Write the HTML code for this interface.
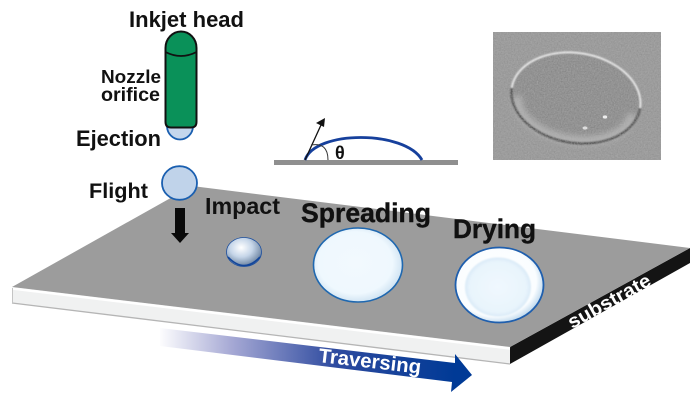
<!DOCTYPE html>
<html><head><meta charset="utf-8"><style>
html,body{margin:0;padding:0;background:#fff;width:700px;height:403px;overflow:hidden}
svg{display:block}
text{font-family:"Liberation Sans",sans-serif;font-weight:bold;fill:#111}
</style></head><body>
<svg width="700" height="403" viewBox="0 0 700 403" xmlns="http://www.w3.org/2000/svg">
<defs>
<linearGradient id="trav" x1="158" y1="0" x2="455" y2="0" gradientUnits="userSpaceOnUse"><stop offset="0" stop-color="#fff"/><stop offset=".25" stop-color="#a5a8d4"/><stop offset=".6" stop-color="#2d4a9f"/><stop offset="1" stop-color="#003a96"/></linearGradient>
<radialGradient id="imp" cx=".42" cy=".35" r=".72"><stop offset="0" stop-color="#fff"/><stop offset=".45" stop-color="#c5d5e8"/><stop offset=".8" stop-color="#7d93ae"/><stop offset="1" stop-color="#143f8f"/></radialGradient>
<radialGradient id="spr" cx=".47" cy=".47" r=".58"><stop offset="0" stop-color="#f2f9fe"/><stop offset=".72" stop-color="#eff8fe"/><stop offset="1" stop-color="#c5dcee"/></radialGradient>
<radialGradient id="dryo" cx=".45" cy=".45" r=".6"><stop offset="0" stop-color="#fff"/><stop offset=".78" stop-color="#fafdff"/><stop offset="1" stop-color="#a9cbe6"/></radialGradient>
<radialGradient id="dry" cx=".5" cy=".5" r=".55"><stop offset="0" stop-color="#f0f8fe"/><stop offset=".78" stop-color="#e8f4fc"/><stop offset="1" stop-color="#cfe3f3"/></radialGradient>
<filter id="noise" x="0" y="0" width="100%" height="100%"><feTurbulence type="fractalNoise" baseFrequency=".7" numOctaves="2" seed="4"/><feColorMatrix values="0 0 0 0 .5  0 0 0 0 .5  0 0 0 0 .5  .5 .5 0 0 -.25"/></filter>
<filter id="b1" x="-20%" y="-20%" width="140%" height="140%"><feGaussianBlur stdDeviation=".7"/></filter>
<filter id="b4" x="-20%" y="-30%" width="140%" height="160%"><feGaussianBlur stdDeviation="3"/></filter>
<clipPath id="semclip"><rect x="493" y="32" width="168" height="128"/></clipPath>
</defs>

<!-- SEM inset -->
<g clip-path="url(#semclip)">
<rect x="493" y="32" width="168" height="128" fill="#929292"/>
<g transform="rotate(9 576 97.500)">
<ellipse cx="576" cy="97.500" rx="64" ry="44" fill="#858585" filter="url(#b1)"/>
<path d="M518 105 A58 35 0 0 0 634 105" fill="none" stroke="#aeaeae" stroke-width="9" filter="url(#b4)"/>
<path d="M511 98 A65 45 0 0 0 641 98" fill="none" stroke="#454545" stroke-width="2.400" filter="url(#b1)"/>
<path d="M511 98 A65 45 0 0 1 641 98" fill="none" stroke="#f4f4f4" stroke-width="2" filter="url(#b1)"/>
</g>
<rect x="493" y="32" width="168" height="128" filter="url(#noise)"/>
</g>
<ellipse cx="605" cy="117" rx="2.200" ry="1.600" fill="#eee"/>
<ellipse cx="585" cy="128" rx="2.500" ry="1.600" fill="#ddd"/>

<!-- Substrate -->
<polygon points="510,347 690,248 690,263 510,364" fill="#141414"/>
<polygon points="12,287 510,347 510,364 12,303" fill="#f0f1f1"/>
<polygon points="192,186 690,248 510,347 12,287" fill="#9c9c9c"/>
<line x1="12" y1="288.500" x2="510" y2="348.500" stroke="#fff" stroke-width="2.500"/>
<line x1="12" y1="303" x2="510" y2="364" stroke="#b5b5b5" stroke-width="1.300"/>
<line x1="12.500" y1="288" x2="12.500" y2="303" stroke="#c4c4c4" stroke-width="1"/>

<!-- Traversing arrow -->
<polygon points="160,328 455,363 455,354 472,375 451,392 452,382 160,346" fill="url(#trav)"/>
<text transform="translate(318 362) rotate(6.500)" font-size="20" style="fill:#fff" textLength="103" lengthAdjust="spacingAndGlyphs">Traversing</text>
<text transform="translate(572 329) rotate(-29)" font-size="19" style="fill:#fff" textLength="92" lengthAdjust="spacingAndGlyphs">substrate</text>

<!-- Head & drops -->
<ellipse cx="180" cy="126" rx="13" ry="13.500" fill="#c4d6ec" stroke="#1a5fb0" stroke-width="1.800"/>
<path d="M165.500 48 A15.500 16.500 0 0 1 196.500 48 V122 Q196.500 127.500 191 127.500 H171 Q165.500 127.500 165.500 122 Z" fill="#0a9159" stroke="#111" stroke-width="2"/>
<path d="M165.500 52 Q181 60 196.500 52" fill="none" stroke="#111" stroke-width="1.800"/>
<ellipse cx="179.500" cy="183" rx="17.500" ry="16.800" fill="#c0d3ea" stroke="#1a5fb0" stroke-width="1.800"/>
<polygon points="175,208 185,208 185,233 189,233 180,243 171,233 175,233" fill="#0a0a0a"/>

<!-- Droplets -->
<ellipse cx="244" cy="252" rx="17.500" ry="14.500" fill="url(#imp)" stroke="#1c4f9f" stroke-width=".8"/>
<path d="M228 257 Q244 274 260 257" fill="none" stroke="#12459a" stroke-width="1.600"/>
<ellipse cx="358" cy="265" rx="44.500" ry="37" fill="url(#spr)" stroke="#1f68b0" stroke-width="1.600"/>
<ellipse cx="499.500" cy="285" rx="44" ry="37.500" fill="url(#dryo)" stroke="#1f5fae" stroke-width="1.800"/>
<ellipse cx="498" cy="287" rx="33" ry="29.500" fill="url(#dry)" filter="url(#b1)"/>

<!-- Contact angle -->
<rect x="274" y="160" width="184" height="5" fill="#8f8f8f"/>
<path d="M305 160 C315 130 405 130 422 160" fill="none" stroke="#16409c" stroke-width="2.800"/>
<line x1="305" y1="160" x2="321" y2="125" stroke="#111" stroke-width="1.300"/>
<polygon points="325,118 316,123 324,127" fill="#111"/>
<path d="M311 145 Q328 142 328 160" fill="none" stroke="#333" stroke-width="1"/>
<text x="335" y="159" font-size="18">θ</text>

<!-- Labels -->
<text x="129" y="27" font-size="22" textLength="115" lengthAdjust="spacingAndGlyphs">Inkjet head</text>
<text x="101" y="83" font-size="18.500" textLength="60" lengthAdjust="spacingAndGlyphs">Nozzle</text>
<text x="101" y="101" font-size="19" textLength="59" lengthAdjust="spacingAndGlyphs">orifice</text>
<text x="76" y="146" font-size="22" textLength="85" lengthAdjust="spacingAndGlyphs">Ejection</text>
<text x="89" y="198" font-size="21.500" textLength="59" lengthAdjust="spacingAndGlyphs">Flight</text>
<text x="205" y="214" font-size="23" textLength="75" lengthAdjust="spacingAndGlyphs">Impact</text>
<text x="301" y="222" font-size="26.500" textLength="130" lengthAdjust="spacingAndGlyphs" stroke="#111" stroke-width=".4">Spreading</text>
<text x="453" y="238" font-size="26.500" textLength="83" lengthAdjust="spacingAndGlyphs" stroke="#111" stroke-width=".4">Drying</text>
</svg>
</body></html>
